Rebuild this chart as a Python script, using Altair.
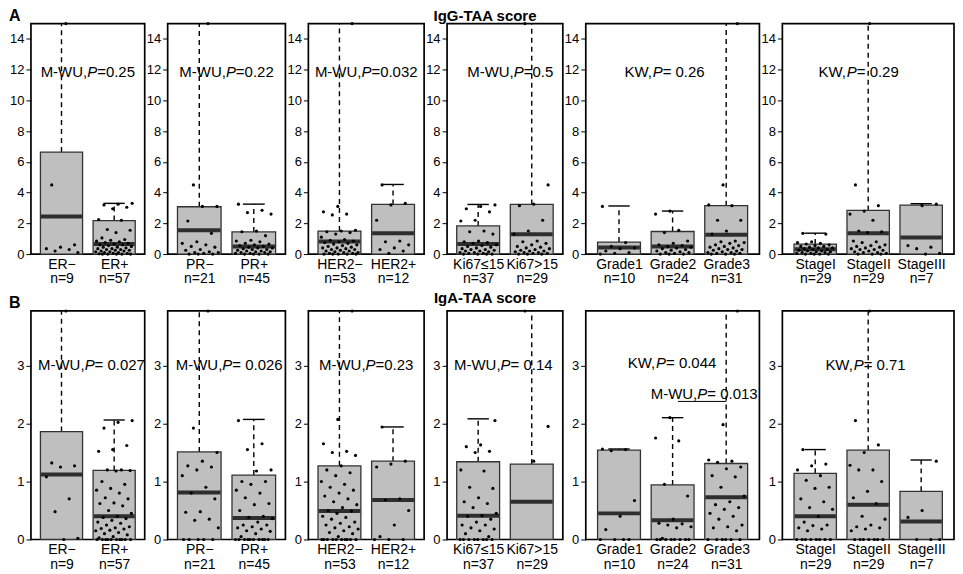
import altair as alt
import pandas as pd

FONT = "Liberation Sans"

# ---------------- data ----------------
group_labels = [["ER−", "ER+"], ["PR−", "PR+"], ["HER2−", "HER2+"], ["Ki67≤15", "Ki67>15"],
                ["Grade1", "Grade2", "Grade3"], ["StageI", "StageII", "StageIII"]]
group_n = [[9, 57], [21, 45], [53, 12], [37, 29], [10, 24, 31], [29, 29, 7]]

# IgG-TAA score (panel A)
igg_q1 = [[0, 0], [0, 0], [0, 0], [0, 0], [0, 0, 0], [0, 0, 0]]
igg_median = [[2.44, 0.65], [1.55, 0.5], [0.82, 1.36], [0.65, 1.29], [0.43, 0.5, 1.25], [0.32, 1.36, 1.08]]
igg_q3 = [[6.64, 2.18], [3.08, 1.44], [1.5, 3.23], [1.83, 3.23], [0.78, 1.47, 3.15], [0.65, 2.84, 3.19]]
igg_whisker_top = [[None, 3.3], [None, 3.25], [None, 4.53], [3.23, None], [3.13, 2.8, None], [1.36, None, 3.28]]
igg_points = [
    [[15, 4.5, 0.6, 0.45, 0.35, 0.3, 0.2, 0.1],
     [3.3, 3.25, 3.2, 3.05, 2.95, 2.25, 2.2, 1.6, 1.55, 1.4, 1.05, 0.95, 0.9, 0.85, 0.8, 0.75, 0.7, 0.65,
      0.6, 0.6, 0.55, 0.5, 0.45, 0.45, 0.4, 0.35, 0.35, 0.3, 0.3, 0.25, 0.25, 0.2, 0.2, 0.15, 0.15, 0.1,
      0.1, 0.05, 0.05, 0.02, 0, 0, 0, 0, 0]],
    [[15, 4.5, 3.1, 3.1, 2.15, 1.35, 0.8, 0.7, 0.6, 0.5, 0.45, 0.3, 0.25, 0.15, 0.1, 0.1, 0.05, 0, 0, 0],
     [3.25, 2.85, 2.7, 2.6, 1.5, 1.45, 1.2, 0.9, 0.85, 0.8, 0.7, 0.65, 0.6, 0.55, 0.5, 0.45, 0.4, 0.4,
      0.35, 0.3, 0.3, 0.25, 0.2, 0.2, 0.15, 0.15, 0.1, 0.1, 0.05, 0.05, 0, 0, 0, 0]],
    [[15, 3.1, 2.75, 2.6, 2.55, 1.55, 1.5, 1.45, 1.4, 1.3, 1.1, 0.95, 0.9, 0.85, 0.8, 0.75, 0.7, 0.65,
      0.6, 0.55, 0.5, 0.45, 0.4, 0.4, 0.35, 0.3, 0.3, 0.25, 0.2, 0.2, 0.15, 0.1, 0.1, 0.05, 0.05, 0, 0, 0, 0, 0],
     [4.5, 3.3, 3.2, 2.2, 0.85, 0.8, 0.6, 0.4, 0.3, 0.2, 0.05]],
    [[3.2, 3.1, 2.95, 2.75, 2.2, 2.15, 1.5, 1.45, 1.3, 0.85, 0.8, 0.75, 0.7, 0.6, 0.55, 0.5, 0.45, 0.4,
      0.35, 0.3, 0.3, 0.25, 0.2, 0.2, 0.15, 0.1, 0.1, 0.05, 0.05, 0, 0, 0, 0],
     [15, 4.5, 3.25, 3.15, 2.2, 1.5, 1.3, 0.85, 0.8, 0.7, 0.6, 0.5, 0.45, 0.4, 0.35, 0.3, 0.25, 0.2,
      0.2, 0.15, 0.1, 0.1, 0.05, 0.05, 0, 0, 0]],
    [[3.1, 0.75, 0.5, 0.4, 0.35, 0.2, 0.1, 0.05, 0],
     [2.8, 2.6, 1.55, 1.4, 0.85, 0.7, 0.6, 0.55, 0.5, 0.45, 0.4, 0.35, 0.3, 0.25, 0.2, 0.15, 0.1, 0.1, 0.05, 0, 0, 0],
     [15, 4.5, 3.2, 3.15, 2.2, 2.2, 1.5, 1.3, 0.85, 0.8, 0.75, 0.7, 0.6, 0.55, 0.5, 0.45, 0.4, 0.35,
      0.3, 0.3, 0.25, 0.2, 0.15, 0.1, 0.1, 0.05, 0.05, 0, 0, 0]],
    [[1.35, 1.3, 0.8, 0.75, 0.7, 0.65, 0.6, 0.55, 0.5, 0.5, 0.45, 0.4, 0.4, 0.35, 0.3, 0.3, 0.25, 0.2,
      0.2, 0.15, 0.15, 0.1, 0.1, 0.05, 0.05, 0, 0, 0, 0],
     [15, 4.5, 3.15, 2.8, 2.6, 2.2, 1.5, 1.45, 1.4, 0.85, 0.8, 0.75, 0.6, 0.55, 0.5, 0.45, 0.4, 0.35,
      0.3, 0.3, 0.25, 0.2, 0.15, 0.1, 0.1, 0.05, 0, 0, 0],
     [3.25, 3.15, 0.55, 0.45, 0.35, 0.05, 0]],
]
igg_ann_prefix = [["M-WU,"], ["M-WU,"], ["M-WU,"], ["M-WU,"], ["KW,"], ["KW,"]]
igg_ann_value = [["=0.25"], ["=0.22"], ["=0.032"], ["=0.5"], ["= 0.26"], ["= 0.29"]]
igg_ann_x = [[1.5], [1.5], [1.5], [1.6], [1.85], [1.82]]
igg_ann_y = [[11.85], [11.85], [11.85], [11.85], [11.85], [11.85]]
igg_yticks = [0, 2, 4, 6, 8, 10, 12, 14]
igg_ymax = 15

# IgA-TAA score (panel B)
iga_q1 = [[0, 0], [0, 0], [0, 0], [0, 0], [0, 0, 0], [0, 0, 0]]
iga_median = [[1.12, 0.4], [0.81, 0.37], [0.49, 0.68], [0.41, 0.65], [0.45, 0.33, 0.73], [0.4, 0.6, 0.31]]
iga_q3 = [[1.86, 1.19], [1.51, 1.11], [1.27, 1.35], [1.34, 1.30], [1.54, 0.94, 1.31], [1.14, 1.54, 0.83]]
iga_whisker_top = [[None, 2.06], [None, 2.07], [None, 1.94], [2.08, None], [1.56, 2.1, None], [1.55, None, 1.37]]
iga_points = [
    [[3.94, 1.32, 1.27, 1.25, 1.08, 0.7, 0.48, 0.02, 0],
     [2.05, 2.02, 1.92, 1.62, 1.55, 1.52, 1.2, 1.2, 1.19, 1.18, 1.0, 0.95, 0.88, 0.85, 0.8, 0.72, 0.7,
      0.63, 0.62, 0.58, 0.5, 0.45, 0.4, 0.38, 0.36, 0.33, 0.3, 0.28, 0.25, 0.22, 0.2, 0.19, 0.18, 0.16,
      0.15, 0.12, 0.1, 0.08, 0.05, 0.03, 0, 0, 0, 0, 0, 0, 0, 0, 0, 0]],
    [[3.94, 1.92, 1.5, 1.35, 1.27, 1.25, 1.2, 1.1, 0.9, 0.8, 0.7, 0.48, 0.47, 0.35, 0.33, 0.2, 0, 0, 0, 0, 0],
     [2.05, 1.65, 1.55, 1.2, 1.18, 1.0, 1.0, 0.95, 0.85, 0.8, 0.72, 0.62, 0.6, 0.5, 0.4, 0.38, 0.36,
      0.3, 0.25, 0.25, 0.22, 0.2, 0.18, 0.15, 0.14, 0.1, 0.05, 0, 0, 0, 0, 0, 0, 0, 0, 0, 0]],
    [[3.94, 2.07, 1.65, 1.52, 1.5, 1.45, 1.27, 1.2, 1.15, 1.1, 1.0, 0.95, 0.9, 0.85, 0.8, 0.75, 0.7,
      0.65, 0.6, 0.55, 0.5, 0.49, 0.45, 0.4, 0.38, 0.35, 0.3, 0.28, 0.25, 0.22, 0.2, 0.18, 0.15, 0.12,
      0.1, 0.05, 0, 0, 0, 0, 0, 0, 0, 0, 0, 0],
     [1.94, 1.35, 1.3, 1.25, 0.7, 0.68, 0.5, 0.25, 0.05, 0, 0, 0]],
    [[2.05, 1.63, 1.6, 1.52, 1.5, 1.2, 1.18, 0.9, 0.88, 0.72, 0.65, 0.62, 0.55, 0.45, 0.41, 0.4, 0.35,
      0.3, 0.25, 0.25, 0.2, 0.18, 0.15, 0.1, 0.05, 0, 0, 0, 0, 0, 0, 0, 0],
     [3.94, 1.95, 1.35]],
    [[1.56, 1.55, 1.53, 0.67, 0.4, 0.17, 0, 0, 0, 0],
     [2.1, 1.75, 1.7, 0.95, 0.75, 0.35, 0.28, 0.27, 0.25, 0.22, 0.2, 0.02, 0, 0, 0, 0, 0, 0, 0, 0],
     [3.94, 1.98, 1.37, 1.35, 1.33, 1.25, 1.22, 1.1, 1.08, 0.9, 0.75, 0.65, 0.6, 0.55, 0.52, 0.45, 0.4,
      0.35, 0.25, 0.22, 0.2, 0.15, 0, 0, 0, 0, 0, 0]],
    [[1.55, 1.3, 1.27, 1.2, 1.1, 1.02, 0.9, 0.88, 0.7, 0.65, 0.55, 0.52, 0.4, 0.3, 0.25, 0.24, 0.2,
      0.18, 0.15, 0, 0, 0, 0, 0, 0, 0, 0],
     [3.94, 2.05, 1.63, 1.5, 1.28, 1.2, 1.2, 1.0, 0.83, 0.72, 0.62, 0.4, 0.35, 0.25, 0.22, 0.2, 0.18,
      0.15, 0, 0, 0, 0, 0, 0, 0],
     [1.35, 0.5, 0.38, 0, 0, 0]],
]
iga_ann_prefix = [["M-WU,"], ["M-WU,"], ["M-WU,"], ["M-WU,"], ["KW,", "M-WU,"], ["KW,"]]
iga_ann_value = [["= 0.027"], ["= 0.026"], ["=0.23"], ["= 0.14"], ["= 0.044", "= 0.013"], ["= 0.71"]]
iga_ann_x = [[1.57], [1.55], [1.5], [1.47], [1.99, 2.59], [1.95]]
iga_ann_y = [[3.0], [3.0], [3.0], [3.0], [3.04, 2.5], [3.0]]
iga_bracket = {4: (2.1, 3.0, 2.38)}   # panel index: (x from, x to, y)
iga_yticks = [0, 1, 2, 3]
iga_ymax = 3.94

# ---------------- layout / style ----------------
panel_widths = [114, 118, 116, 116, 174, 172]
ANN_SIZE = 15
CW = {'M': 833, '-': 333, 'W': 944, 'U': 722, ',': 278, 'P': 667, '=': 584, ' ': 278, '.': 278, 'K': 667}


def tw(s, size):
    return sum(CW.get(c, 556) for c in s) * size / 1000.0


def make_panel(p, labels, ns, q1, med, q3, wtop, pts, pre, val, ax, ay, ymax, yticks,
               width, height, bracket=None, overlays=()):
    k = len(labels)
    xs = alt.Scale(domain=[0.5 - 0.04 * k, k + 0.5 + 0.04 * k], nice=False, zero=False)
    ys = alt.Scale(domain=[0, ymax], nice=False, zero=False)
    expr = "".join(f"datum.value == {i + 1} ? ['{l}', 'n={n}'] : "
                   for i, (l, n) in enumerate(zip(labels, ns))) + "''"
    xaxis = alt.Axis(values=list(range(1, k + 1)), labelExpr=expr, ticks=False, domain=False,
                     grid=False, labelFontSize=14, labelPadding=3, labelLineHeight=15,
                     labelOverlap=False, labelFlush=False, labelColor="black", labelFont=FONT,
                     title=None)
    yaxis = alt.Axis(values=yticks, tickSize=5, tickColor="black", tickWidth=1, domain=False,
                     grid=False, labelFontSize=13, labelPadding=2, labelOverlap=False,
                     labelFlush=False, labelColor="black", labelFont=FONT, title=None)

    def X(f):
        return alt.X(f, scale=xs, axis=xaxis)

    def Y(f):
        return alt.Y(f, scale=ys, axis=yaxis)

    idx = list(range(1, k + 1))
    box_df = pd.DataFrame({
        "idx": idx,
        "lo": [i - 0.4 for i in idx], "hi": [i + 0.4 for i in idx],
        "mlo": [i - 0.39 for i in idx], "mhi": [i + 0.39 for i in idx],
        "q1": q1, "med": med, "q3": q3,
        "wt": [w if w is not None else ymax for w in wtop],
    })
    caps = [(i, w) for i, w in zip(idx, wtop) if w is not None]
    cap_df = pd.DataFrame({"clo": [i - 0.2 for i, _ in caps], "chi": [i + 0.2 for i, _ in caps],
                           "cap": [w for _, w in caps]})
    rows = []
    for g, vals in enumerate(pts):
        for j, v in enumerate(vals):
            frac = ((j + 1) * 0.6180339887 + 0.37 * g + 0.11 * p) % 1.0
            rows.append({"px": g + 1 + (frac - 0.5) * 0.7, "val": v})
    pts_df = pd.DataFrame(rows)

    layers = [
        alt.Chart(box_df).mark_rule(color="black", strokeWidth=1.4, strokeDash=[5, 4]).encode(
            x=X("idx:Q"), y=Y("q3:Q"), y2="wt:Q"),
        alt.Chart(box_df).mark_rect(fill="#bfbfbf", stroke="#333333", strokeWidth=1.3).encode(
            x=X("lo:Q"), x2="hi:Q", y=Y("q1:Q"), y2="q3:Q"),
        alt.Chart(box_df).mark_rule(color="#2e2e2e", strokeWidth=4).encode(
            x=X("mlo:Q"), x2="mhi:Q", y=Y("med:Q")),
        alt.Chart(cap_df).mark_rule(color="black", strokeWidth=1.4).encode(
            x=X("clo:Q"), x2="chi:Q", y=Y("cap:Q")),
        alt.Chart(pts_df).mark_circle(color="black", size=10, opacity=1).encode(
            x=X("px:Q"), y=Y("val:Q")),
    ]
    if bracket is not None:
        bdf = pd.DataFrame({"b1": [bracket[0]], "b2": [bracket[1]], "by": [bracket[2]]})
        layers.append(alt.Chart(bdf).mark_rule(color="black", strokeWidth=1).encode(
            x=X("b1:Q"), x2="b2:Q", y=Y("by:Q")))
    for pr, sv, xx, yy in zip(pre, val, ax, ay):
        wp, wP, ws = tw(pr, ANN_SIZE), tw("P", ANN_SIZE), tw(sv, ANN_SIZE)
        W = wp + wP + ws
        adf = pd.DataFrame({"x": [xx], "y": [yy], "a": [pr], "b": ["P"], "c": [sv]})
        for field, off, style in (("a", -W / 2, "normal"), ("b", -W / 2 + wp, "italic"),
                                  ("c", -W / 2 + wp + wP, "normal")):
            layers.append(alt.Chart(adf).mark_text(
                align="left", baseline="middle", dx=off, fontSize=ANN_SIZE, font=FONT,
                fontStyle=style, color="black").encode(x=X("x:Q"), y=Y("y:Q"), text=f"{field}:N"))
    for (t, xp, yp, size) in overlays:
        layers.append(alt.Chart(pd.DataFrame({"t": [t]})).mark_text(
            font=FONT, fontSize=size, fontWeight="bold", align="left" if len(t) == 1 else "center",
            baseline="middle", color="black").encode(x=alt.value(xp), y=alt.value(yp), text="t:N"))
    return alt.layer(*layers).properties(width=width, height=height)


def make_row(q1s, meds, q3s, wts, ptss, pres, vals, axs, ays, ymax, yticks, height, letter, title,
             title_y, brackets):
    panels = []
    for p in range(6):
        ov = []
        if p == 0:
            ov.append((letter, -22, -8, 16))
        if p == 3:
            ov.append((title, 38, title_y, 15))
        panels.append(make_panel(p, group_labels[p], group_n[p], q1s[p], meds[p], q3s[p], wts[p],
                                 ptss[p], pres[p], vals[p], axs[p], ays[p], ymax, yticks,
                                 panel_widths[p], height, brackets.get(p), ov))
    return alt.hconcat(*panels, spacing=23, bounds="flush")


row1 = make_row(igg_q1, igg_median, igg_q3, igg_whisker_top, igg_points, igg_ann_prefix,
                igg_ann_value, igg_ann_x, igg_ann_y, igg_ymax, igg_yticks, 231, "A",
                "IgG-TAA score", -8, {})
row2 = make_row(iga_q1, iga_median, iga_q3, iga_whisker_top, iga_points, iga_ann_prefix,
                iga_ann_value, iga_ann_x, iga_ann_y, iga_ymax, iga_yticks, 229, "B",
                "IgA-TAA score", -13, iga_bracket)

chart = alt.vconcat(row1, row2, spacing=3).properties(
    padding={"top": -2, "left": 0, "right": 0, "bottom": 0}
).configure(font=FONT).configure_view(stroke="black", strokeWidth=1.7)

chart.save("out.html", embed_options={"renderer": "svg", "actions": False})
